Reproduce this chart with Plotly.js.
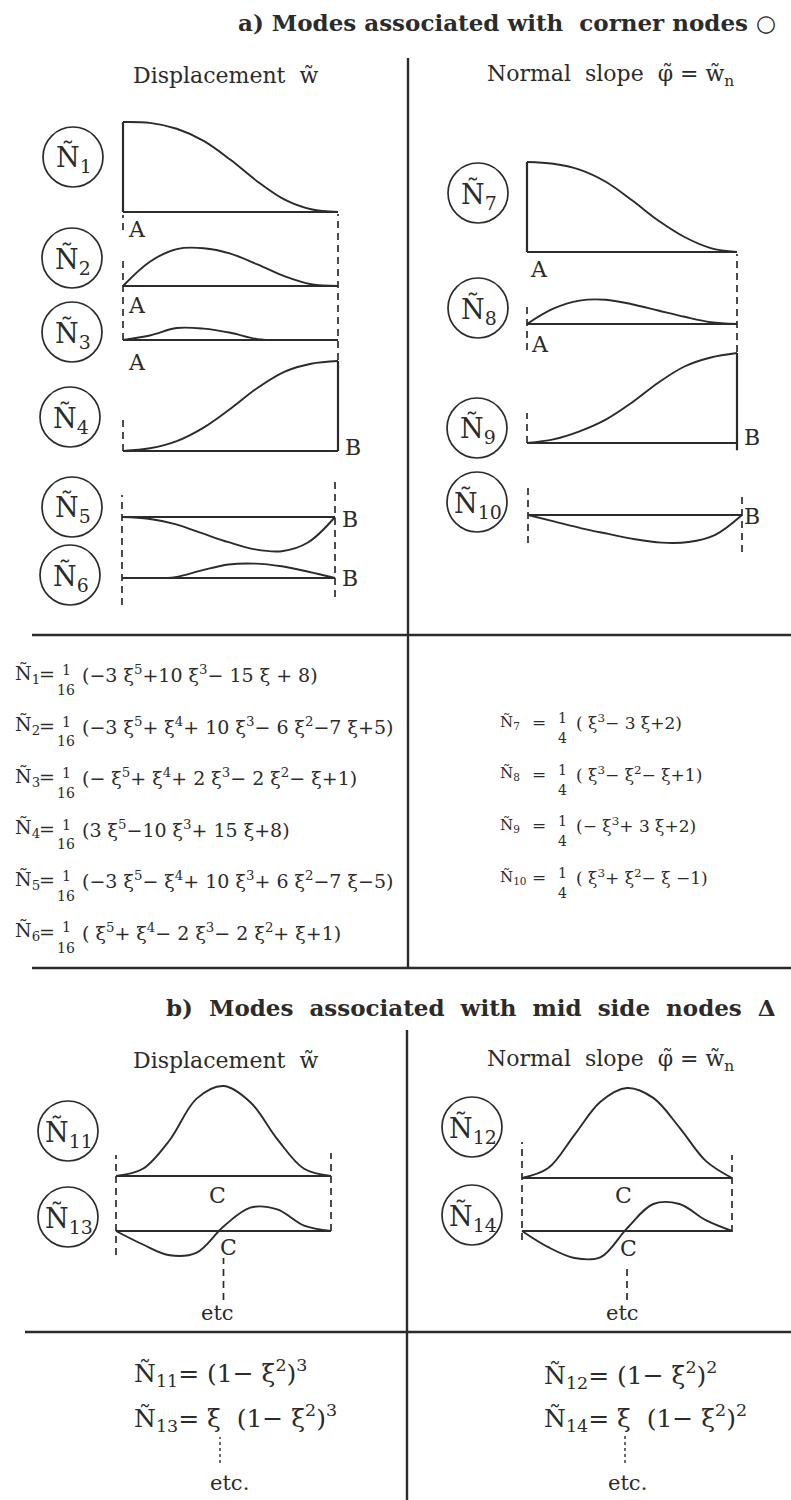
<!DOCTYPE html>
<html>
<head>
<meta charset="utf-8">
<script src="https://cdn.plot.ly/plotly-3.0.1.min.js"></script>
<style>
  html, body { margin: 0; padding: 0; background: #ffffff; }
  #fig { width: 791px; height: 1500px; }
</style>
</head>
<body>
<div id="fig"></div>
<script>
// ---------------------------------------------------------------
// Shape functions of the element side, sampled along the side:
// xi = -1 at corner A, xi = +1 at corner B, xi = 0 at mid-side C.
// ---------------------------------------------------------------
const XI = [-1, -0.75, -0.5, -0.25, 0, 0.25, 0.5, 0.75, 1];

// corner-node modes, displacement w~
const N1 = [1, 0.99, 0.925, 0.79, 0.58, 0.34, 0.14, 0.03, 0];
const N2 = [0, 0.27, 0.41, 0.42, 0.36, 0.24, 0.11, 0.02, 0];
const N3 = [0, 0.05, 0.133, 0.126, 0.08, 0.01, 0, 0, 0];
const N4 = [0, 0.03, 0.11, 0.26, 0.47, 0.70, 0.88, 0.97, 1];
const N5 = [0, -0.02, -0.08, -0.18, -0.28, -0.36, -0.38, -0.28, 0];
const N6 = [0, 0, 0.01, 0.085, 0.15, 0.16, 0.13, 0.07, 0];

// corner-node modes, normal slope phi~
const N7  = [1, 0.98, 0.915, 0.78, 0.574, 0.35, 0.167, 0.044, 0];
const N8  = [0, 0.17, 0.26, 0.27, 0.22, 0.15, 0.08, 0.02, 0];
const N9  = [0, 0.04, 0.13, 0.26, 0.45, 0.67, 0.85, 0.95, 1];
const N10 = [0, -0.074, -0.148, -0.21, -0.27, -0.307, -0.30, -0.22, 0];

// mid-side-node modes
const N11 = [0, 0.08, 0.40, 0.86, 1.0, 0.82, 0.41, 0.08, 0];
const N13 = [0, -0.15, -0.27, -0.24, 0.05, 0.26, 0.24, 0.06, 0];
const N12 = [0, 0.11, 0.48, 0.85, 1.0, 0.89, 0.56, 0.19, 0];
const N14 = [0, -0.18, -0.30, -0.29, 0.03, 0.30, 0.30, 0.12, 0];

const MODE_KEYS   = ['N1', 'N2', 'N3', 'N4', 'N5', 'N6', 'N7', 'N8', 'N9', 'N10', 'N11', 'N13', 'N12', 'N14'];
const MODE_VALUES = [N1, N2, N3, N4, N5, N6, N7, N8, N9, N10, N11, N13, N12, N14];
const MODE_INDEX  = ['1', '2', '3', '4', '5', '6', '7', '8', '9', '10', '11', '13', '12', '14'];

// ---------------------------------------------------------------
// Texts
// ---------------------------------------------------------------
const TITLE_A = 'a) Modes associated with  corner nodes \u25CB';
const TITLE_B = 'b)  Modes  associated  with  mid  side  nodes  \u0394';
const HEAD_W   = 'Displacement  w\u0303';
const HEAD_PHI = 'Normal  slope  \u03C6\u0303 = w\u0303<sub>n</sub>';

const F_LEFT_NAMES = ['1', '2', '3', '4', '5', '6'];
const F_LEFT_DEN   = ['16', '16', '16', '16', '16', '16'];
const F_LEFT_BODY  = [
  '(\u22123 \u03BE<sup>5</sup>+10 \u03BE<sup>3</sup>\u2212 15 \u03BE + 8)',
  '(\u22123 \u03BE<sup>5</sup>+ \u03BE<sup>4</sup>+ 10 \u03BE<sup>3</sup>\u2212 6 \u03BE<sup>2</sup>\u22127 \u03BE+5)',
  '(\u2212 \u03BE<sup>5</sup>+ \u03BE<sup>4</sup>+ 2 \u03BE<sup>3</sup>\u2212 2 \u03BE<sup>2</sup>\u2212 \u03BE+1)',
  '(3 \u03BE<sup>5</sup>\u221210 \u03BE<sup>3</sup>+ 15 \u03BE+8)',
  '(\u22123 \u03BE<sup>5</sup>\u2212 \u03BE<sup>4</sup>+ 10 \u03BE<sup>3</sup>+ 6 \u03BE<sup>2</sup>\u22127 \u03BE\u22125)',
  '( \u03BE<sup>5</sup>+ \u03BE<sup>4</sup>\u2212 2 \u03BE<sup>3</sup>\u2212 2 \u03BE<sup>2</sup>+ \u03BE+1)'
];
const F_RIGHT_NAMES = ['7', '8', '9', '10'];
const F_RIGHT_DEN   = ['4', '4', '4', '4'];
const F_RIGHT_BODY  = [
  '( \u03BE<sup>3</sup>\u2212 3 \u03BE+2)',
  '( \u03BE<sup>3</sup>\u2212 \u03BE<sup>2</sup>\u2212 \u03BE+1)',
  '(\u2212 \u03BE<sup>3</sup>+ 3 \u03BE+2)',
  '( \u03BE<sup>3</sup>+ \u03BE<sup>2</sup>\u2212 \u03BE \u22121)'
];
const F_MID = [
  '\u00D1<sub>11</sub>= (1\u2212 \u03BE<sup>2</sup>)<sup>3</sup>',
  '\u00D1<sub>13</sub>= \u03BE  (1\u2212 \u03BE<sup>2</sup>)<sup>3</sup>',
  '\u00D1<sub>12</sub>= (1\u2212 \u03BE<sup>2</sup>)<sup>2</sup>',
  '\u00D1<sub>14</sub>= \u03BE  (1\u2212 \u03BE<sup>2</sup>)<sup>2</sup>'
];

// ---------------------------------------------------------------
// Page geometry (pixels)
// ---------------------------------------------------------------
const W = 791, H = 1500;
const S = 90;                 // pixels per unit of mode amplitude
const LO = -0.5, HI = 1.1;    // value window of every small plot
const PAD = 0.05;             // xi padding so edges are not clipped
const INK = '#2b2b2b';
const FONT = 'DejaVu Serif';

const PANEL = {
  N1:  {x0: 123, x1: 338, base: 212,  cx: 73,  cy: 157},
  N2:  {x0: 123, x1: 338, base: 286,  cx: 72,  cy: 258},
  N3:  {x0: 123, x1: 338, base: 340,  cx: 72,  cy: 332},
  N4:  {x0: 123, x1: 338, base: 451,  cx: 70,  cy: 417},
  N5:  {x0: 122, x1: 335, base: 517,  cx: 72,  cy: 507},
  N6:  {x0: 122, x1: 335, base: 578,  cx: 70,  cy: 575},
  N7:  {x0: 527, x1: 737, base: 252,  cx: 478, cy: 193},
  N8:  {x0: 527, x1: 737, base: 324,  cx: 478, cy: 308},
  N9:  {x0: 527, x1: 737, base: 443,  cx: 477, cy: 428},
  N10: {x0: 528, x1: 742, base: 515,  cx: 477, cy: 502},
  N11: {x0: 116, x1: 331, base: 1176, cx: 68,  cy: 1131},
  N13: {x0: 116, x1: 331, base: 1231, cx: 68,  cy: 1217},
  N12: {x0: 522, x1: 732, base: 1178, cx: 472, cy: 1127},
  N14: {x0: 522, x1: 732, base: 1231, cx: 472, cy: 1215}
};

// solid end walls [plot, xi, from value, to value]
const WALLS = [['N1', -1, 0, 1], ['N4', 1, 0, 1], ['N7', -1, 0, 1], ['N9', 1, -0.08, 1]];

// dashed guides [plot, xi, top px, bottom px]
const GUIDES = [
  ['N1', -1, 215, 230], ['N1', 1, 214, 360],
  ['N2', -1, 260, 340], ['N4', -1, 415, 451],
  ['N5', -1, 495, 605], ['N5', 1, 480, 597],
  ['N7', 1, 254, 352], ['N8', -1, 302, 350], ['N9', -1, 413, 443],
  ['N10', -1, 488, 543], ['N10', 1, 492, 552],
  ['N11', -1, 1155, 1255], ['N11', 1, 1153, 1231],
  ['N12', -1, 1142, 1240], ['N12', 1, 1155, 1232],
  ['N13', 0, 1258, 1300], ['N14', 0, 1265, 1300]
];

// point letters [text, x px, y px]
const POINTS = [
  ['A', 137, 229], ['A', 137, 305], ['A', 137, 362],
  ['B', 353, 448], ['B', 350, 519], ['B', 350, 578],
  ['A', 539, 270], ['A', 540, 344], ['B', 752, 437], ['B', 752, 516],
  ['C', 218, 1195], ['C', 228, 1247], ['C', 623, 1195], ['C', 628, 1248]
];

// ---------------------------------------------------------------
const px = x => x / W;
const py = y => 1 - y / H;

function ann(x, y, text, size, xanchor, color) {
  return {
    xref: 'paper', yref: 'paper', x: px(x), y: py(y), text: text,
    showarrow: false, xanchor: xanchor || 'center', yanchor: 'middle',
    font: {family: FONT, size: size, color: color || INK}
  };
}

const traces = [];
const shapes = [];
const annotations = [];
const layout = {
  width: W, height: H,
  margin: {l: 0, r: 0, t: 0, b: 0, pad: 0},
  paper_bgcolor: '#ffffff', plot_bgcolor: 'rgba(0,0,0,0)',
  showlegend: false, hovermode: false
};
const axisRef = {};

MODE_KEYS.forEach((key, i) => {
  const k = i + 1;
  const sfx = k === 1 ? '' : String(k);
  const p = PANEL[key];
  const half = (p.x1 - p.x0) / 2;
  axisRef[key] = {x: 'x' + sfx, y: 'y' + sfx};
  layout['xaxis' + sfx] = {
    domain: [px(p.x0 - PAD * half), px(p.x1 + PAD * half)],
    range: [-1 - PAD, 1 + PAD], visible: false, fixedrange: true, anchor: 'y' + sfx
  };
  layout['yaxis' + sfx] = {
    domain: [py(p.base - LO * S), py(p.base - HI * S)],
    range: [LO, HI], visible: false, fixedrange: true, anchor: 'x' + sfx
  };
  // the mode shape
  traces.push({
    x: XI, y: MODE_VALUES[i], xaxis: 'x' + sfx, yaxis: 'y' + sfx,
    type: 'scatter', mode: 'lines', hoverinfo: 'skip',
    line: {shape: 'spline', smoothing: 1, color: INK, width: 1.9}
  });
  // element side
  shapes.push({type: 'line', xref: 'x' + sfx, yref: 'y' + sfx, x0: -1, x1: 1, y0: 0, y1: 0,
               line: {color: INK, width: 2.2}});
  // node circle and label
  shapes.push({type: 'circle', xref: 'paper', yref: 'paper',
               x0: px(p.cx - 30), x1: px(p.cx + 30), y0: py(p.cy + 30), y1: py(p.cy - 30),
               line: {color: INK, width: 1.7}});
  annotations.push(ann(p.cx + 1, p.cy + 2, '\u00D1<sub>' + MODE_INDEX[i] + '</sub>', 27));
});

WALLS.forEach(([key, xi, v0, v1]) => {
  const r = axisRef[key];
  shapes.push({type: 'line', xref: r.x, yref: r.y, x0: xi, x1: xi, y0: v0, y1: v1,
               line: {color: INK, width: 2.2}});
});

GUIDES.forEach(([key, xi, top, bot]) => {
  const r = axisRef[key];
  shapes.push({type: 'line', xref: r.x, yref: 'paper', x0: xi, x1: xi, y0: py(bot), y1: py(top),
               line: {color: INK, width: 1.7, dash: '7px,5px'}});
});

POINTS.forEach(([t, x, y]) => annotations.push(ann(x, y, t, 22)));

// frame lines of the table
const RULES = [
  [408, 58, 408, 968], [32, 635, 791, 635], [32, 968, 791, 968],
  [407, 1030, 407, 1500], [25, 1332, 791, 1332]
];
RULES.forEach(([a, b, c, d]) => shapes.push({
  type: 'line', xref: 'paper', yref: 'paper', x0: px(a), y0: py(b), x1: px(c), y1: py(d),
  line: {color: INK, width: 2.4}
}));

// titles and column headings
annotations.push(ann(778, 23, '<b>' + TITLE_A + '</b>', 23, 'right'));
annotations.push(ann(778, 1007, '<b>' + TITLE_B + '</b>', 23, 'right'));
annotations.push(ann(225, 76, HEAD_W, 22));
annotations.push(ann(610, 76, HEAD_PHI, 22));
annotations.push(ann(225, 1060, HEAD_W, 22));
annotations.push(ann(610, 1060, HEAD_PHI, 22));

// formulas of the corner-node modes
F_LEFT_NAMES.forEach((n, r) => {
  const y = 674 + r * 51.5;
  annotations.push(ann(13, y, '\u00D1<sub>' + n + '</sub>', 19, 'left'));
  annotations.push(ann(47, y, '=', 19));
  annotations.push(ann(66, y - 4, '1', 14));
  annotations.push(ann(66, y + 16, F_LEFT_DEN[r], 14));
  annotations.push(ann(80, y, F_LEFT_BODY[r], 19, 'left'));
});
F_RIGHT_NAMES.forEach((n, r) => {
  const y = 722 + r * 51.7;
  annotations.push(ann(498, y, '\u00D1<sub>' + n + '</sub>', 15, 'left'));
  annotations.push(ann(539, y, '=', 17));
  annotations.push(ann(562, y - 4, '1', 14));
  annotations.push(ann(562, y + 16, F_RIGHT_DEN[r], 14));
  annotations.push(ann(574, y, F_RIGHT_BODY[r], 17, 'left'));
});

// formulas of the mid-side modes
annotations.push(ann(132, 1373, F_MID[0], 25, 'left'));
annotations.push(ann(132, 1418, F_MID[1], 25, 'left'));
annotations.push(ann(542, 1375, F_MID[2], 25, 'left'));
annotations.push(ann(542, 1418, F_MID[3], 25, 'left'));

// "etc" continuation marks
annotations.push(ann(217, 1313, 'etc', 21));
annotations.push(ann(622, 1313, 'etc', 21));
annotations.push(ann(229, 1483, 'etc.', 21));
annotations.push(ann(627, 1483, 'etc.', 21));
[[220, 1437, 1463], [625, 1433, 1463]].forEach(([x, t, b]) => shapes.push({
  type: 'line', xref: 'paper', yref: 'paper', x0: px(x), x1: px(x), y0: py(b), y1: py(t),
  line: {color: INK, width: 1.4, dash: '3px,3px'}
}));

layout.shapes = shapes;
layout.annotations = annotations;

Plotly.newPlot('fig', traces, layout, {displayModeBar: false, staticPlot: true});
</script>
</body>
</html>
